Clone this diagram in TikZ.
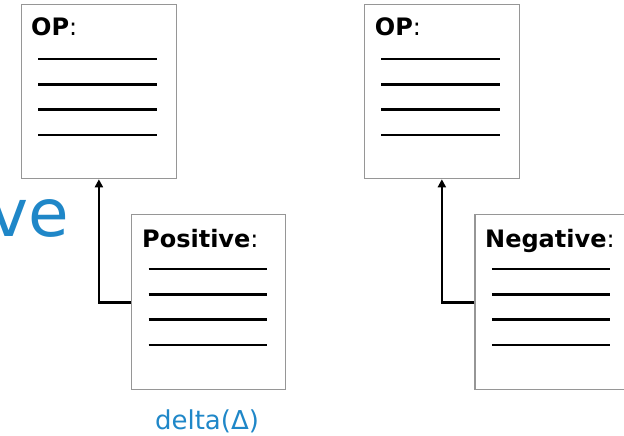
\documentclass[tikz,border=0pt]{standalone}
\usepackage{fontspec}
\setmainfont{DejaVu Sans}
\usetikzlibrary{arrows.meta,calc}
\definecolor{accentblue}{RGB}{31,135,200}
\definecolor{boxgray}{RGB}{150,150,150}
\tikzset{
  doc/.style={draw=boxgray,line width=1.3pt,fill=white,rectangle,inner sep=0pt,anchor=north west},
  rule/.style={line width=2.7pt,black},
  head/.style={anchor=base west,inner sep=0pt,font=\fontsize{24}{28}\selectfont},
  link/.style={line width=2.7pt,black,-{Triangle[width=8pt,length=8pt]}},
  bluetext/.style={text=accentblue,inner sep=0pt}
}
\newcommand{\docrules}[1]{%
  \foreach \yy in {55,80.3,105.6,131}{
    \draw[rule] ($(#1.north west)+(17.5,\yy)$) -- ($(#1.north west)+(136,\yy)$);
  }%
}
\begin{document}
\begin{tikzpicture}[x=1pt,y=-1pt]
\useasboundingbox (0,0) rectangle (624,436);
\clip (0,0) rectangle (624,436);
% big partial word
\node[bluetext,anchor=base east,font=\fontsize{66}{70}\selectfont] (big) at (69,236.7) {ve};
% left group
\node[doc,minimum width=155.5pt,minimum height=174pt] (op1) at (20.5,4) {};
\node[doc,minimum width=154pt,minimum height=175pt] (pos) at (131,214) {};
\node[head] (op1t) at ($(op1.north west)+(10.5,32)$) {\textbf{OP}:};
\node[head] (post) at ($(pos.north west)+(11,33)$) {\textbf{Positive}:};
\docrules{op1}
\docrules{pos}
\draw[link] (pos.west) -| (op1.south);
\node[bluetext,anchor=base,font=\fontsize{26}{30}\selectfont] (delta) at (207,429) {delta(Δ)};
% right group
\node[doc,minimum width=155pt,minimum height=174pt] (op2) at (363.7,4) {};
\node[doc,minimum width=154.3pt,minimum height=175pt] (neg) at (474.3,214) {};
\node[head] (op2t) at ($(op2.north west)+(11,32)$) {\textbf{OP}:};
\node[head] (negt) at ($(neg.north west)+(10.7,33)$) {\textbf{Negative}:};
\docrules{op2}
\docrules{neg}
\draw[link] (neg.west) -| (op2.south);
\end{tikzpicture}
\end{document}
